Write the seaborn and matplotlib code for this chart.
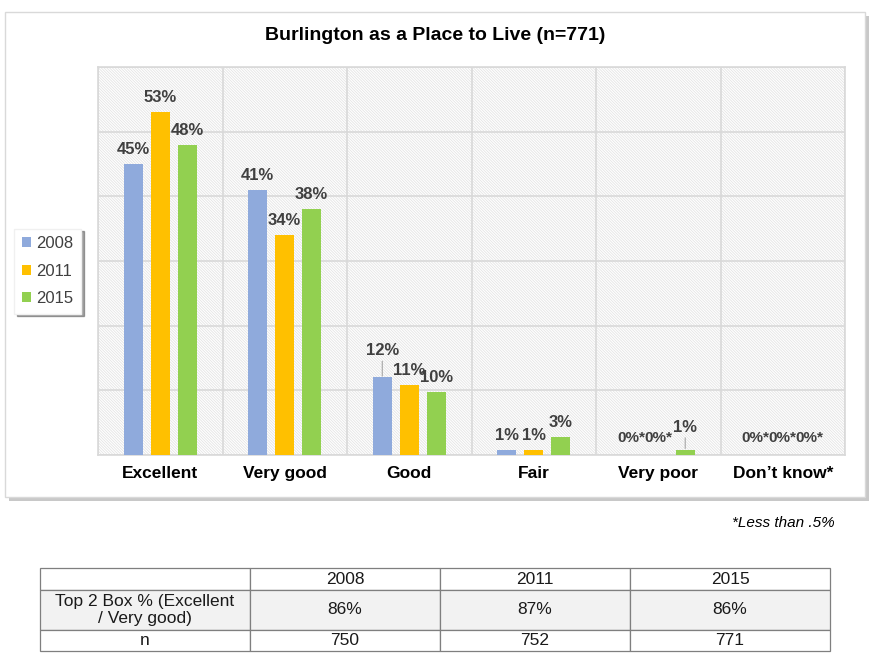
import pandas as pd
import seaborn as sns
import matplotlib.pyplot as plt
from matplotlib.patches import Rectangle

# Survey data
categories = ["Excellent", "Very good", "Good", "Fair", "Very poor", "Don\u2019t know*"]
years = ["2008", "2011", "2015"]
pct_2008 = [45, 41, 12, 0.8, 0, 0]
pct_2011 = [53, 34, 10.9, 0.8, 0, 0]
pct_2015 = [48, 38, 9.8, 2.8, 0.8, 0]
labels_2008 = ["45%", "41%", "12%", "1%", "0%*", "0%*"]
labels_2011 = ["53%", "34%", "11%", "1%", "0%*", "0%*"]
labels_2015 = ["48%", "38%", "10%", "3%", "1%", "0%*"]
colors = ["#8faadc", "#ffc000", "#92d050"]

table_header = ["", "2008", "2011", "2015"]
table_top2 = ["Top 2 Box % (Excellent\n/ Very good)", "86%", "87%", "86%"]
table_n = ["n", "750", "752", "771"]

sns.set_theme(style="white")
plt.rcParams["font.family"] = ["Liberation Sans", "DejaVu Sans"]
plt.rcParams["hatch.color"] = "#e4e4e4"
plt.rcParams["hatch.linewidth"] = 0.6

df = pd.DataFrame({
    "category": categories * 3,
    "year": [y for y in years for _ in categories],
    "value": pct_2008 + pct_2011 + pct_2015,
})

W, H = 877, 657
fig = plt.figure(figsize=(W / 100, H / 100), dpi=100)

# chart panel with drop shadow
fig.patches.append(Rectangle((9 / W, 1 - 501 / H), 860 / W, 485 / H, transform=fig.transFigure,
                             facecolor="#c8c8c8", edgecolor="none", zorder=-3))
fig.patches.append(Rectangle((5 / W, 1 - 497 / H), 860 / W, 485 / H, transform=fig.transFigure,
                             facecolor="white", edgecolor="#d9d9d9", linewidth=1, zorder=-2))

ax = fig.add_axes([98 / W, 1 - 455 / H, 747 / W, 388 / H])
ax.set_zorder(1)
ax.set_facecolor("white")
ax.add_patch(Rectangle((0, 0), 1, 1, transform=ax.transAxes, facecolor="white",
                       edgecolor="#e4e4e4", hatch="\\" * 12, linewidth=0, zorder=0))

sns.barplot(data=df, x="category", y="value", hue="year", palette=colors, saturation=1,
            width=0.65, gap=0.3, ax=ax, zorder=3, edgecolor="none")

# extra lift (points) for labels that would collide; lifted ones get a leader line
lift = {(0, 2): 9, (2, 4): 6}
all_labels = [labels_2008, labels_2011, labels_2015]
for s, (cont, labs) in enumerate(zip(ax.containers, all_labels)):
    for i, (bar, lab) in enumerate(zip(cont, labs)):
        x = bar.get_x() + bar.get_width() / 2
        y = bar.get_height()
        extra = lift.get((s, i), 0)
        if lab == "0%*":
            fs, extra_pad = 11, 2
        else:
            fs, extra_pad = 12, 0
        arrow = dict(arrowstyle="-", color="#a6a6a6", lw=0.8, shrinkA=0, shrinkB=1) if extra else None
        ax.annotate(lab, xy=(x, y), xytext=(0, 5 + extra + extra_pad), textcoords="offset points",
                    ha="center", va="bottom", fontsize=fs, fontweight="bold",
                    color="#404040", zorder=4, arrowprops=arrow)

ax.set_xlim(-0.5, len(categories) - 0.5)
ax.set_ylim(0, 60)
ax.set_yticks(range(0, 61, 10))
ax.set_yticklabels([])
ax.set_xticks(range(len(categories)))
ax.set_xticks([i - 0.5 for i in range(len(categories) + 1)], minor=True)
ax.grid(True, which="minor", axis="x", color="#d9d9d9", linewidth=1.2, zorder=1)
ax.grid(True, which="major", axis="y", color="#d9d9d9", linewidth=1.2, zorder=1)
ax.set_axisbelow(True)
ax.tick_params(axis="x", which="both", length=0, pad=8)
ax.tick_params(axis="y", length=0)
for lab in ax.get_xticklabels():
    lab.set_fontweight("bold")
    lab.set_fontsize(12.5)
    lab.set_color("black")
ax.set_xlabel("")
ax.set_ylabel("")
for sp in ax.spines.values():
    sp.set_color("#d9d9d9")
    sp.set_linewidth(1.2)

handles, labs = ax.get_legend_handles_labels()
ax.legend(handles, labs, loc="center left", bbox_to_anchor=(-0.123, 0.474),
          frameon=True, shadow=True, fancybox=False, edgecolor="#f0f0f0",
          fontsize=12, handlelength=0.55, handleheight=0.55, handletextpad=0.3,
          labelspacing=0.75, borderpad=0.45, borderaxespad=0.5, labelcolor="#404040")

fig.text(435 / W, 1 - 35 / H, "Burlington as a Place to Live (n=771)", ha="center", va="center",
         fontsize=14, fontweight="bold", color="black")
fig.text(835 / W, 1 - 523 / H, "*Less than .5%", ha="right", va="center",
         fontsize=11, fontstyle="italic", color="black")

# summary table
tax = fig.add_axes([40 / W, 1 - 651 / H, 790 / W, 83 / H])
tax.axis("off")
tbl = tax.table(cellText=[table_header, table_top2, table_n], cellLoc="center",
                bbox=[0, 0, 1, 1])
tbl.auto_set_font_size(False)
col_w = [210, 190, 190, 200]
row_h = [22, 40, 21]
for (r, c), cell in tbl.get_celld().items():
    cell.set_width(col_w[c] / 790)
    cell.set_height(row_h[r] / 83)
    cell.set_edgecolor("#7f7f7f")
    cell.set_linewidth(0.9)
    cell.get_text().set_fontsize(12.5)
    cell.get_text().set_color("#1a1a1a")
    cell.get_text().set_linespacing(1.1)
    if r == 1:
        cell.set_facecolor("#f2f2f2")

fig.savefig("out.png", dpi=100)
